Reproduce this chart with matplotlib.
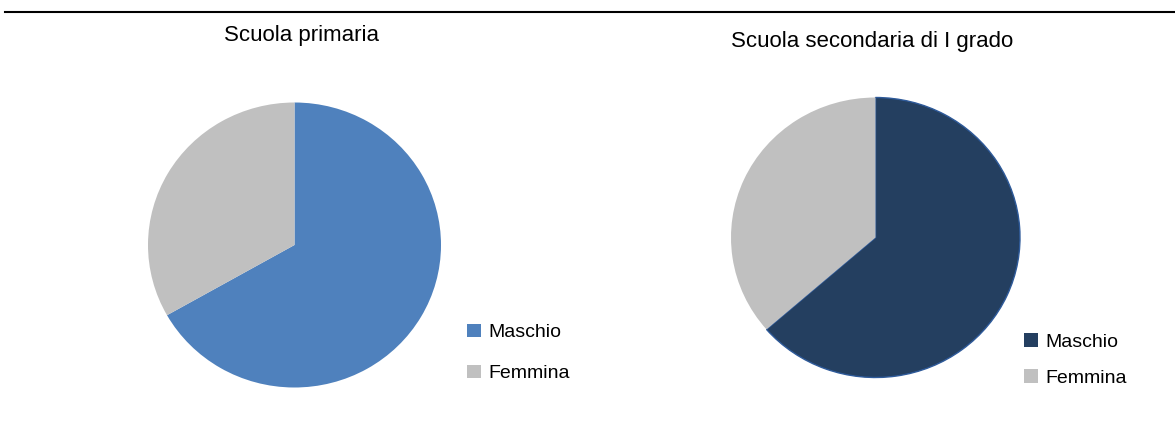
import matplotlib.pyplot as plt
from matplotlib.lines import Line2D
from matplotlib.patches import Patch

plt.rcParams['font.family'] = ['Liberation Sans', 'DejaVu Sans']

# dati
etichette = ["Maschio", "Femmina"]
primaria = [66.8, 33.2]
secondaria = [63.6, 36.4]
titoli = ["Scuola primaria", "Scuola secondaria di I grado"]

W, H = 1175, 421
fig = plt.figure(figsize=(W / 100, H / 100), dpi=100)


def asse_torta(cx, cy, rx, ry):
    ax = fig.add_axes([(cx - rx) / W, (H - cy - ry) / H, 2 * rx / W, 2 * ry / H])
    ax.axis("off")
    return ax


# torta sinistra
ax1 = asse_torta(294.5, 245, 146.5, 142.5)
col1 = ["#4F81BD", "#C0C0C0"]
ax1.pie(primaria, colors=col1, startangle=90, counterclock=False, radius=1,
        wedgeprops=dict(linewidth=0))
ax1.set_aspect("auto")
ax1.set_xlim(-1, 1)
ax1.set_ylim(-1, 1)

# torta destra
ax2 = asse_torta(875.5, 237.5, 144.5, 140)
col2 = ["#243F60", "#C0C0C0"]
spicchi, _ = ax2.pie(secondaria, colors=col2, startangle=90, counterclock=False,
                     radius=1, wedgeprops=dict(linewidth=0))
spicchi[0].set_edgecolor("#2E5A9A")
spicchi[0].set_linewidth(1.0)
ax2.set_aspect("auto")
ax2.set_xlim(-1, 1)
ax2.set_ylim(-1, 1)

# titoli
fig.text(302 / W, 1 - 35 / H, titoli[0], ha="center", va="center", fontsize=16)
fig.text(872 / W, 1 - 42 / H, titoli[1], ha="center", va="center", fontsize=16)

# legende
h1 = [Patch(facecolor=c, edgecolor="none") for c in col1]
h2 = [Patch(facecolor=c, edgecolor="none") for c in col2]
fig.legend(h1, etichette, loc="center left", bbox_to_anchor=(467 / W, 1 - 353 / H),
           frameon=False, fontsize=14, handlelength=0.7, handleheight=0.7,
           handletextpad=0.4, labelspacing=1.2, borderpad=0, borderaxespad=0)
fig.legend(h2, etichette, loc="center left", bbox_to_anchor=(1024 / W, 1 - 360 / H),
           frameon=False, fontsize=14, handlelength=0.7, handleheight=0.7,
           handletextpad=0.4, labelspacing=0.95, borderpad=0, borderaxespad=0)

# linea in alto
fig.add_artist(Line2D([5 / W, 1], [1 - 12 / H, 1 - 12 / H], color="black",
                      linewidth=1.5, transform=fig.transFigure))

fig.savefig("out.png", dpi=100)
